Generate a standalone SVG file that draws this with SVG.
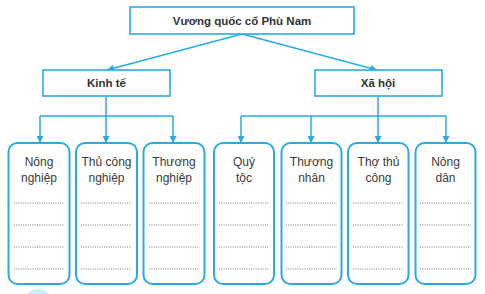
<svg xmlns="http://www.w3.org/2000/svg" width="485" height="294" viewBox="0 0 485 294">
<defs>
<marker id="ah" viewBox="0 0 10 10" refX="10" refY="5" markerWidth="7" markerHeight="7" markerUnits="userSpaceOnUse" orient="auto">
<path d="M0,0 L10,5 L0,10 z" fill="#29abe2"/>
</marker>
<style>
.hdr{fill:#fff;stroke:#29abe2;stroke-width:1.6}
.box{fill:#fff;stroke:#29abe2;stroke-width:2}
.ht{font-family:"Liberation Sans",Arial,sans-serif;font-weight:bold;font-size:11.5px;fill:#333;text-anchor:middle}
.bt{font-family:"Liberation Sans",Arial,sans-serif;font-size:12px;fill:#3a3a3a;text-anchor:middle}
.con{fill:none;stroke:#29abe2;stroke-width:1.5}
.dot{stroke:#555;stroke-width:0.8;stroke-dasharray:1 1.3}
</style>
</defs>
<rect width="485" height="294" fill="#fff"/>
<ellipse cx="38" cy="302" rx="14" ry="13" fill="#c8edf8"/>
<g id="connectors">
<line class="con" x1="242" y1="34" x2="107" y2="70" marker-end="url(#ah)"/>
<line class="con" x1="242" y1="34" x2="377" y2="70" marker-end="url(#ah)"/>
<line class="con" x1="106" y1="97" x2="106" y2="143" marker-end="url(#ah)"/>
<line class="con" x1="40" y1="116" x2="173" y2="116"/>
<line class="con" x1="40" y1="116" x2="40" y2="143" marker-end="url(#ah)"/>
<line class="con" x1="173" y1="116" x2="173" y2="143" marker-end="url(#ah)"/>
<line class="con" x1="378" y1="97" x2="378" y2="143" marker-end="url(#ah)"/>
<line class="con" x1="241" y1="116" x2="446" y2="116"/>
<line class="con" x1="241" y1="116" x2="241" y2="143" marker-end="url(#ah)"/>
<line class="con" x1="311" y1="116" x2="311" y2="143" marker-end="url(#ah)"/>
<line class="con" x1="446" y1="116" x2="446" y2="143" marker-end="url(#ah)"/>
</g>
<g id="root"><rect class="hdr" x="130" y="7" width="224" height="27"/><text class="ht" x="242" y="25">Vương quốc cổ Phù Nam</text></g>
<g id="kinhte"><rect class="hdr" x="43" y="70" width="127" height="26"/><text class="ht" x="106.5" y="87">Kinh tế</text></g>
<g id="xahoi"><rect class="hdr" x="315" y="70" width="127" height="26"/><text class="ht" x="378" y="87">Xã hội</text></g>
<g id="nongnghiep"><rect class="box" x="8.5" y="143" width="61" height="141" rx="9"/><text class="bt" x="39" y="166">Nông</text><text class="bt" x="39" y="182">nghiệp</text>
<line class="dot" x1="14" y1="203" x2="64" y2="203"/><line class="dot" x1="14" y1="225" x2="64" y2="225"/><line class="dot" x1="14" y1="247" x2="64" y2="247"/><line class="dot" x1="14" y1="269" x2="64" y2="269"/></g>
<g id="thucong"><rect class="box" x="76" y="143" width="61" height="141" rx="9"/><text class="bt" x="106.5" y="166">Thủ công</text><text class="bt" x="106.5" y="182">nghiệp</text>
<line class="dot" x1="81" y1="203" x2="131" y2="203"/><line class="dot" x1="81" y1="225" x2="131" y2="225"/><line class="dot" x1="81" y1="247" x2="131" y2="247"/><line class="dot" x1="81" y1="269" x2="131" y2="269"/></g>
<g id="thuongnghiep"><rect class="box" x="143.5" y="143" width="61" height="141" rx="9"/><text class="bt" x="174" y="166">Thương</text><text class="bt" x="174" y="182">nghiệp</text>
<line class="dot" x1="149" y1="203" x2="199" y2="203"/><line class="dot" x1="149" y1="225" x2="199" y2="225"/><line class="dot" x1="149" y1="247" x2="199" y2="247"/><line class="dot" x1="149" y1="269" x2="199" y2="269"/></g>
<g id="quytoc"><rect class="box" x="214" y="143" width="60" height="141" rx="9"/><text class="bt" x="244" y="166">Quý</text><text class="bt" x="244" y="182">tộc</text>
<line class="dot" x1="219" y1="203" x2="269" y2="203"/><line class="dot" x1="219" y1="225" x2="269" y2="225"/><line class="dot" x1="219" y1="247" x2="269" y2="247"/><line class="dot" x1="219" y1="269" x2="269" y2="269"/></g>
<g id="thuongnhan"><rect class="box" x="281.5" y="143" width="60" height="141" rx="9"/><text class="bt" x="311.5" y="166">Thương</text><text class="bt" x="311.5" y="182">nhân</text>
<line class="dot" x1="286" y1="203" x2="337" y2="203"/><line class="dot" x1="286" y1="225" x2="337" y2="225"/><line class="dot" x1="286" y1="247" x2="337" y2="247"/><line class="dot" x1="286" y1="269" x2="337" y2="269"/></g>
<g id="thothucong"><rect class="box" x="348" y="143" width="60.5" height="141" rx="9"/><text class="bt" x="378.5" y="166">Thợ thủ</text><text class="bt" x="378.5" y="182">công</text>
<line class="dot" x1="353" y1="203" x2="403" y2="203"/><line class="dot" x1="353" y1="225" x2="403" y2="225"/><line class="dot" x1="353" y1="247" x2="403" y2="247"/><line class="dot" x1="353" y1="269" x2="403" y2="269"/></g>
<g id="nongdan"><rect class="box" x="415.5" y="143" width="60" height="141" rx="9"/><text class="bt" x="445.5" y="166">Nông</text><text class="bt" x="445.5" y="182">dân</text>
<line class="dot" x1="420" y1="203" x2="471" y2="203"/><line class="dot" x1="420" y1="225" x2="471" y2="225"/><line class="dot" x1="420" y1="247" x2="471" y2="247"/><line class="dot" x1="420" y1="269" x2="471" y2="269"/></g>
</svg>
